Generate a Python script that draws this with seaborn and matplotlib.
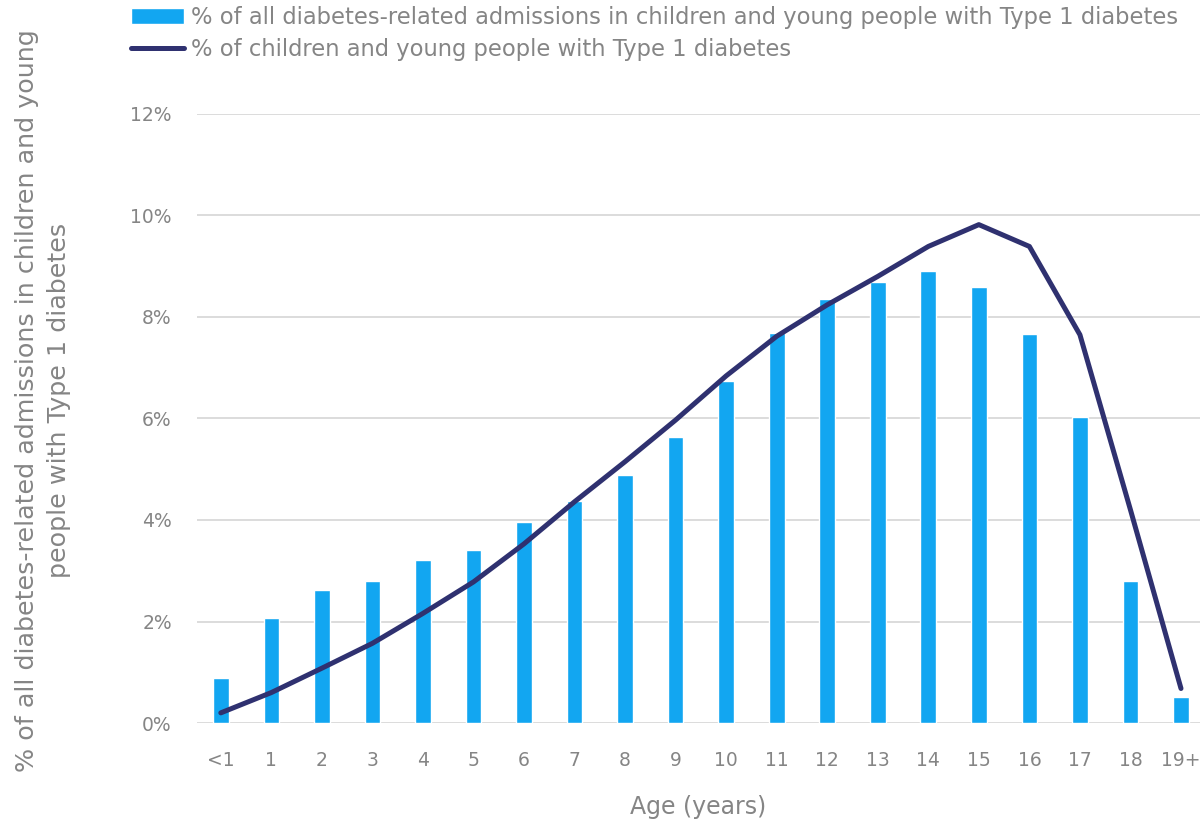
import numpy as np
import pandas as pd
import matplotlib
matplotlib.use("Agg")
import matplotlib.pyplot as plt
import seaborn as sns
from matplotlib.ticker import PercentFormatter, MultipleLocator

ages = ["<1", "1", "2", "3", "4", "5", "6", "7", "8", "9",
        "10", "11", "12", "13", "14", "15", "16", "17", "18", "19+"]
admissions_pct = [0.88, 2.06, 2.63, 2.80, 3.21, 3.40, 3.96, 4.37, 4.89, 5.63,
                  6.74, 7.69, 8.36, 8.68, 8.91, 8.60, 7.66, 6.02, 2.80, 0.51]
population_pct = [0.20, 0.60, 1.08, 1.57, 2.16, 2.78, 3.53, 4.36, 5.15, 5.97,
                  6.84, 7.62, 8.24, 8.80, 9.39, 9.82, 9.39, 7.65, 4.20, 0.68]

bar_label = "% of all diabetes-related admissions in children and young people with Type 1 diabetes"
line_label = "% of children and young people with Type 1 diabetes"

sns.set_theme(style="white")
plt.rcParams["font.family"] = ["DejaVu Sans"]

grey = "#858585"
bar_color = "#12a6f1"
line_color = "#2f3170"

df = pd.DataFrame({"age": ages, "adm": admissions_pct, "pop": population_pct,
                   "pos": np.arange(len(ages))})

fig = plt.figure(figsize=(12, 8.23), dpi=100)
ax = fig.add_axes([0.164, 0.1215, 0.836, 0.74])

sns.barplot(data=df, x="age", y="adm", color=bar_color, width=0.31,
            saturation=1, ax=ax, label=bar_label, zorder=2)
sns.lineplot(data=df, x="pos", y="pop", color=line_color, linewidth=3.6,
             ax=ax, label=line_label, zorder=3, solid_capstyle="round")

ax.set_xlim(-0.475, 19.376)
ax.set_ylim(0, 12)
ax.yaxis.set_major_locator(MultipleLocator(2))
ax.yaxis.set_major_formatter(PercentFormatter(decimals=0))
ax.grid(axis="y", color="#d9d9d9", linewidth=1.3, zorder=0)
ax.set_axisbelow(True)
for s in ax.spines.values():
    s.set_visible(False)

ax.set_xticks(np.arange(len(ages)))
ax.set_xticklabels(ages)
ax.tick_params(axis="both", colors=grey, labelsize=13.5, length=0)
ax.tick_params(axis="x", pad=20)
ax.tick_params(axis="y", pad=18)

ax.set_xlabel("Age (years)", color=grey, fontsize=17, labelpad=18)
ax.set_ylabel("% of all diabetes-related admissions in children and young\npeople with Type 1 diabetes",
              color=grey, fontsize=18.3, linespacing=1.45)
ax.yaxis.set_label_coords(-0.125, 0.53)

handles, labels = ax.get_legend_handles_labels()
order = [labels.index(bar_label), labels.index(line_label)]
if ax.legend_ is not None:
    ax.legend_.remove()
fig.legend([handles[i] for i in order], [labels[i] for i in order],
           loc="upper left", bbox_to_anchor=(0.102, 1.004),
           frameon=False, fontsize=16.3, labelcolor=grey, handlelength=2.3,
           handletextpad=0.35, labelspacing=0.42, borderaxespad=0)

fig.savefig("out.png", dpi=100)
